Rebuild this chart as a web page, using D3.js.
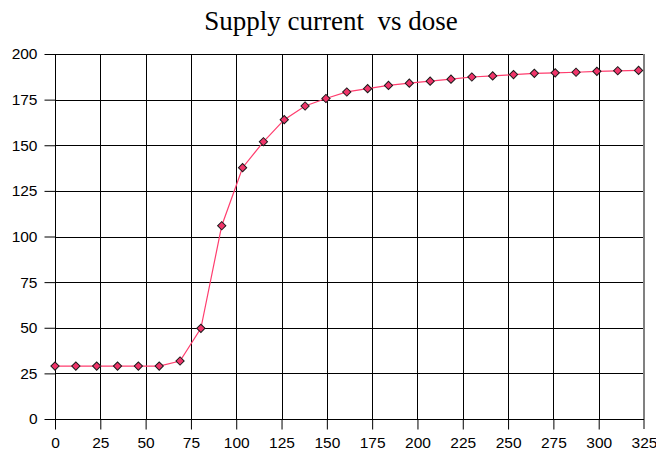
<!DOCTYPE html>
<html>
<head>
<meta charset="utf-8">
<script src="https://cdn.jsdelivr.net/npm/d3@7"></script>
<style>
  body { margin: 0; background: #fff; }
  svg { display: block; }
</style>
</head>
<body>
<script>
// dose values (x) and supply current (y)
const dose = [0, 11.5, 23, 34.5, 46, 57.5, 69, 80.5, 92, 103.5, 115, 126.5, 138, 149.5,
  161, 172.5, 184, 195.5, 207, 218.5, 230, 241.5, 253, 264.5, 276, 287.5, 299, 310.5, 322];
const current = [29, 29, 29, 29, 29, 29, 31.8, 49.7, 105.9, 137.7, 151.9, 164, 171.5, 175.6,
  179.2, 181, 182.8, 184, 185.1, 186.2, 187.4, 188, 188.7, 189.4, 189.7, 190, 190.5, 190.8, 191];
const xTicks = d3.range(0, 326, 25);
const yTicks = d3.range(0, 201, 25);

const width = 656;
const height = 455;
const marginTop = 54;
const marginRight = 12;
const marginBottom = 36;
const marginLeft = 55;

const data = dose.map((d, i) => [d, current[i]]);

const x = d3.scaleLinear()
  .domain([0, 325])
  .range([marginLeft, width - marginRight]);

const y = d3.scaleLinear()
  .domain([0, 200])
  .range([height - marginBottom, marginTop]);

const svg = d3.select("body")
  .append("svg")
  .attr("width", width)
  .attr("height", height)
  .attr("viewBox", [0, 0, width, height]);

// title
svg.append("text")
  .attr("x", 331)
  .attr("y", 30)
  .attr("text-anchor", "middle")
  .attr("font-family", "'Liberation Serif', 'Times New Roman', serif")
  .attr("font-size", 27)
  .attr("xml:space", "preserve")
  .style("white-space", "pre")
  .text("Supply current  vs dose");

// grid
svg.append("g")
  .attr("stroke", "#000")
  .attr("stroke-width", 1)
  .selectAll("line.v")
  .data(xTicks.slice(1, -1))
  .join("line")
  .attr("x1", d => Math.round(x(d)) + 0.5)
  .attr("x2", d => Math.round(x(d)) + 0.5)
  .attr("y1", y(200))
  .attr("y2", y(0));

svg.append("g")
  .attr("stroke", "#000")
  .attr("stroke-width", 1)
  .selectAll("line")
  .data(yTicks.slice(1))
  .join("line")
  .attr("x1", x(0))
  .attr("x2", x(325))
  .attr("y1", d => Math.round(y(d)) + 0.5)
  .attr("y2", d => Math.round(y(d)) + 0.5);

// right border
svg.append("line")
  .attr("stroke", "#808080")
  .attr("stroke-width", 2)
  .attr("x1", Math.round(x(325)))
  .attr("x2", Math.round(x(325)))
  .attr("y1", y(200))
  .attr("y2", y(0) + 10);

// axes
const xAxis = svg.append("g")
  .attr("transform", `translate(0,${Math.round(y(0)) + 0.5})`)
  .call(d3.axisBottom(x).tickValues(xTicks).tickSize(10).tickPadding(7));

const yAxis = svg.append("g")
  .attr("transform", `translate(${Math.round(x(0)) + 0.5},0)`)
  .call(d3.axisLeft(y).tickValues(yTicks).tickSize(11).tickPadding(7));

[xAxis, yAxis].forEach(g => {
  g.selectAll(".tick line").attr("stroke", "#000");
  g.selectAll(".tick text")
    .attr("fill", "#000")
    .attr("font-family", "'Liberation Sans', Arial, sans-serif")
    .attr("font-size", 15.5);
});
xAxis.select(".domain").remove();
yAxis.select(".domain").remove();
xAxis.append("line")
  .attr("stroke", "#000")
  .attr("x1", x(0)).attr("x2", x(325));
yAxis.append("line")
  .attr("stroke", "#000")
  .attr("y1", y(0)).attr("y2", y(200));
xAxis.selectAll(".tick").filter(d => d === 325).select("line").remove();

// series line
svg.append("path")
  .datum(data)
  .attr("fill", "none")
  .attr("stroke", "#ff3d6e")
  .attr("stroke-width", 1.2)
  .attr("d", d3.line().x(d => x(d[0])).y(d => y(d[1])));

// markers
svg.append("g")
  .selectAll("path")
  .data(data)
  .join("path")
  .attr("transform", d => `translate(${x(d[0])},${y(d[1])}) rotate(45)`)
  .attr("d", d3.symbol(d3.symbolSquare, 34))
  .attr("fill", "#f0356a")
  .attr("stroke", "#1a1a1a")
  .attr("stroke-width", 1);
</script>
</body>
</html>
